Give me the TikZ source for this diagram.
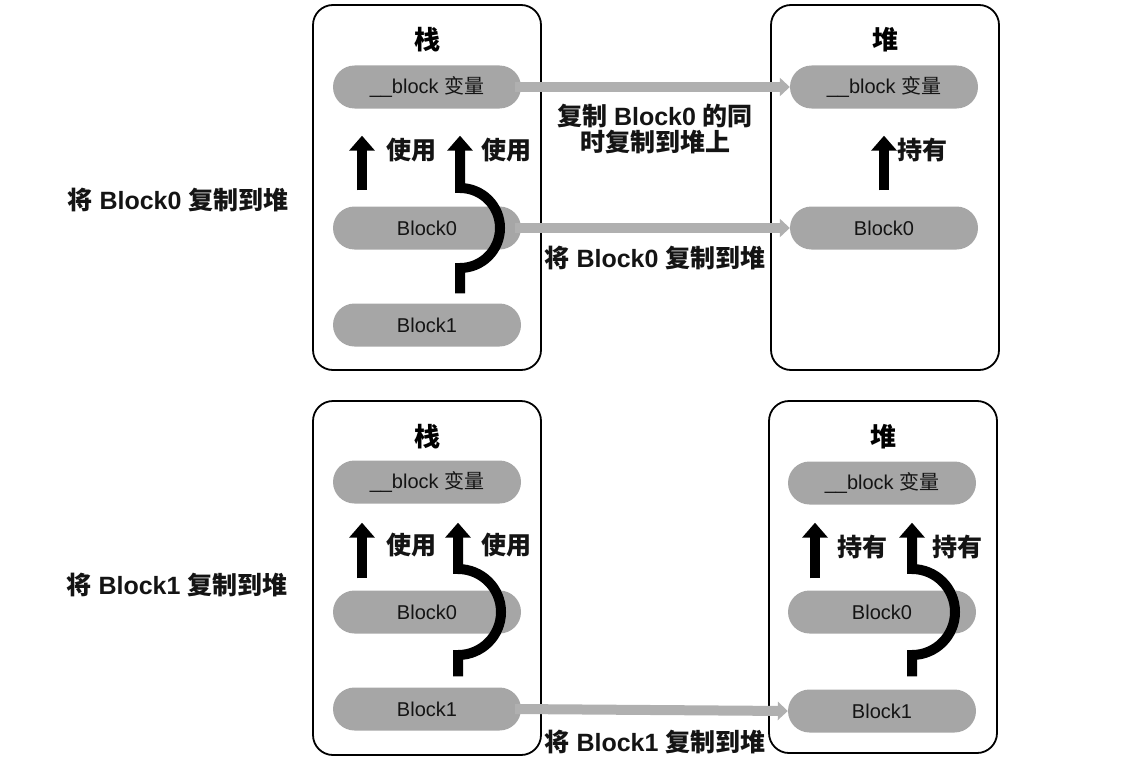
\documentclass[tikz,border=0pt]{standalone}
\usepackage{fontspec}
\setmainfont{Liberation Sans}
\newfontfamily\cjk{Noto Sans CJK SC}
\newcommand{\zh}[1]{{\cjk #1}}
\usetikzlibrary{arrows.meta,calc}
\definecolor{pillgray}{RGB}{166,166,166}
\definecolor{arrgray}{RGB}{176,176,176}
\definecolor{ink}{RGB}{20,20,20}
\tikzset{
  frame/.style={draw=black,line width=1.8pt,rounded corners=20pt,minimum width=228pt,minimum height=#1,inner sep=0pt},
  pill/.style={fill=pillgray,rounded corners=21.5pt,minimum width=188pt,minimum height=43pt,inner sep=0pt,text=ink,font=\fontsize{20}{22}\selectfont},
  title/.style={font=\fontsize{26}{30}\selectfont\bfseries\cjk},
  lbl/.style={font=\fontsize{25}{26}\selectfont\bfseries,text=ink,inner sep=0pt},
  blk/.style={line width=10pt,draw=black,-{Triangle[width=25pt,length=15pt]}},
  gry/.style={line width=10pt,draw=arrgray,-{Triangle[width=18pt,length=10pt]}}
}
\begin{document}
\begin{tikzpicture}[x=1pt,y=-1pt]
\useasboundingbox (0,0) rectangle (1140,776);
% ---------- top row ----------
\node[frame=365pt] (ts) at (427,187.5) {};
\node[frame=365pt] (th) at (885,187.5) {};
\node[title] (tst) at (427,40) {栈};
\node[title] (tht) at (885,40) {堆};
\node[pill] (tv) at (427,87) {\_\_block \zh{变量}};
\node[pill] (tb0) at (427,228) {Block0};
\node[pill] (tb1) at (427,325) {Block1};
\node[pill] (hv) at (884,87) {\_\_block \zh{变量}};
\node[pill] (hb0) at (884,228) {Block0};
% black arrows stack
\draw[blk] ($(tb0.north)+(-65,-16)$) -- ($(tv.south)+(-65,27)$);
\draw[blk] ($(tb1.north)+(33,-10)$) -- ($(tb0.center)+(33,40)$) arc[start angle=90,end angle=-90,radius=40] -- ($(tv.south)+(33,27)$);
\node[lbl] (tu1) at (411,150) {\zh{使用}};
\node[lbl] (tu2) at (506,150) {\zh{使用}};
% heap arrow
\draw[blk] ($(hb0.north)+(0,-16)$) -- ($(hv.south)+(0,27)$);
\node[lbl] (hh1) at (922,150) {\zh{持有}};
% gray arrows
\draw[gry] ($(tv.east)+(-6,0)$) -- (hv.west);
\draw[gry] ($(tb0.east)+(-6,0)$) -- (hb0.west);
\node[lbl,align=center] (g1) at (655,129.5) {\zh{复制} Block0 \zh{的同}\\\zh{时复制到堆上}};
\node[lbl] (g2) at (655,258) {\zh{将} Block0 \zh{复制到堆}};
\node[lbl] (L1) at (178,200) {\zh{将} Block0 \zh{复制到堆}};
% ---------- bottom row ----------
\node[frame=354pt] (bs) at (427,578) {};
\node[frame=352pt] (bh) at (883,577) {};
\node[title] (bst) at (427,437) {栈};
\node[title] (bht) at (883,437) {堆};
\node[pill] (bv) at (427,482) {\_\_block \zh{变量}};
\node[pill] (bb0) at (427,612) {Block0};
\node[pill] (bb1) at (427,709) {Block1};
\node[pill] (cv) at (882,483) {\_\_block \zh{变量}};
\node[pill] (cb0) at (882,612) {Block0};
\node[pill] (cb1) at (882,711) {Block1};
\draw[blk] ($(bb0.north)+(-65,-12)$) -- ($(bv.south)+(-65,19)$);
\draw[blk] ($(bb1.north)+(31,-11)$) -- ($(bb0.center)+(31,43)$) arc[start angle=90,end angle=-90,radius=43] -- ($(bv.south)+(31,19)$);
\node[lbl] (bu1) at (411,545) {\zh{使用}};
\node[lbl] (bu2) at (506,545) {\zh{使用}};
\draw[blk] ($(cb0.north)+(-67,-12)$) -- ($(cv.south)+(-67,18)$);
\draw[blk] ($(cb1.north)+(30,-13)$) -- ($(cb0.center)+(30,43)$) arc[start angle=90,end angle=-90,radius=43] -- ($(cv.south)+(30,18)$);
\node[lbl] (ch1) at (862,547) {\zh{持有}};
\node[lbl] (ch2) at (957,547) {\zh{持有}};
\draw[gry] ($(bb1.east)+(-6,0)$) -- (cb1.west);
\node[lbl] (g3) at (655,742) {\zh{将} Block1 \zh{复制到堆}};
\node[lbl] (L2) at (177,585) {\zh{将} Block1 \zh{复制到堆}};
\end{tikzpicture}
\end{document}
